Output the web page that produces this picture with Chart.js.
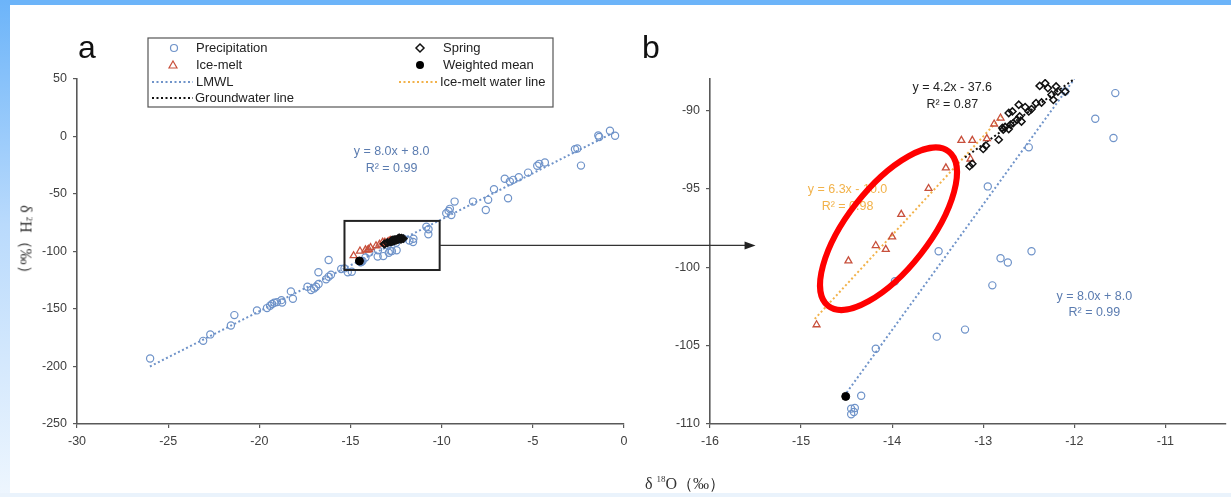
<!DOCTYPE html>
<html>
<head>
<meta charset="utf-8">
<script src="https://cdn.jsdelivr.net/npm/chart.js@4.4.0/dist/chart.umd.min.js"></script>
<style>
  html, body { margin: 0; padding: 0; }
  body { width: 1231px; height: 497px; overflow: hidden; position: relative; background: #fff; font-family: 'Liberation Sans', Arial, sans-serif; }
  #topband { position: absolute; left: 0; top: 0; width: 1231px; height: 5px; background: #6cb4f9; }
  #leftband { position: absolute; left: 0; top: 0; width: 10px; height: 497px; background: linear-gradient(to bottom, #6cb4f9, #b9dafc 45%, #eef6fe); }
  #bottomband { position: absolute; left: 0; top: 493px; width: 1231px; height: 4px; background: #eaf3fc; }
  .layer { position: absolute; left: 0; top: 0; }
  .panel { position: absolute; font-size: 32px; color: #111; line-height: 1; transform: translate(-50%, -50%); }
  .axis-title { position: absolute; font-family: 'Liberation Serif', 'DejaVu Serif', serif; font-size: 16px; color: #333; white-space: nowrap; }
  .axis-title sup { font-size: 9px; }
</style>
</head>
<body>
<div id="topband"></div>
<div id="leftband"></div>
<div id="bottomband"></div>
<canvas id="chartA" class="layer" width="1231" height="497"></canvas>
<canvas id="chartB" class="layer" width="1231" height="497"></canvas>
<div class="panel" style="left:87px; top:47px;">a</div>
<div class="panel" style="left:651px; top:47px;">b</div>
<div class="axis-title" style="left:25px; top:243px; transform: translate(-50%, -50%) rotate(90deg);">δ <sup>2</sup>H（‰）</div>
<div class="axis-title" style="left:685px; top:484px; transform: translate(-50%, -50%);">δ <sup>18</sup>O（‰）</div>

<script>
// Precipitation (δ18O, δ2H)
const precipX = [-25.99, -23.08, -22.69, -21.56, -21.37, -20.13, -19.58, -19.41, -19.3, -19.18, -19.03, -18.79, -18.75,
  -18.27, -18.16, -17.36, -17.16, -17.0, -16.89, -16.76, -16.75, -16.34, -16.2, -16.07, -16.2, -15.51, -15.33, -15.15, -14.93,
  -10.84, -10.72, -10.73, -9.75, -9.62, -9.55, -9.47, -9.29, -8.28, -7.58, -7.45, -7.13, -6.54, -6.36, -6.26, -6.08, -5.77,
  -5.26, -4.76, -4.65, -4.34, -2.69, -2.56, -2.36, -1.41, -1.36, -0.77, -0.49,
  -12.95, -13.49, -12.81, -12.73, -12.47, -12.9, -13.97, -13.51, -13.2, -14.18, -14.34, -14.45, -14.42, -14.41, -14.45,
  -12.5, -11.55, -11.77, -11.57, -12.1];
const precipY = [-193.0, -177.7, -172.1, -164.3, -155.3, -151.2, -149.2, -147.2, -145.7, -144.6, -144.0, -142.3, -144.3,
  -134.7, -141.1, -130.7, -133.5, -132.1, -130.7, -118.1, -128.3, -124.2, -121.9, -120.2, -107.4, -115.2, -114.7, -118.1, -117.6,
  -78.4, -80.7, -85.0, -66.7, -64.7, -62.9, -68.2, -56.6, -56.6, -63.9, -55.1, -45.8, -36.8, -53.7, -39.2, -37.7, -35.4,
  -31.4, -25.5, -23.8, -22.6, -11.0, -10.4, -25.3, 0.9, -0.5, 5.0, 0.6,
  -94.85, -98.98, -99.43, -99.7, -98.98, -101.16, -100.9, -104.43, -103.98, -105.2, -108.2, -109.38, -109.23, -108.98, -109.02,
  -92.36, -88.9, -90.53, -91.76, -88.8];

// Ice-melt
const iceX = [-14.83, -14.48, -14.18, -14.07, -14.0, -13.9, -13.6, -13.41, -13.14, -13.24, -13.12, -12.96, -12.88, -12.81];
const iceY = [-103.67, -99.6, -98.62, -98.86, -98.07, -96.63, -94.98, -93.67, -93.1, -91.91, -91.91, -91.8, -90.87, -90.49];

// Spring
const springX = [-13.15, -13.12, -13.0, -12.97, -12.83, -12.79, -12.78, -12.76, -12.72, -12.7, -12.67, -12.63, -12.6, -12.58,
  -12.72, -12.68, -12.61, -12.54, -12.5, -12.47, -12.42, -12.36, -12.38, -12.32, -12.29, -12.25, -12.2, -12.18, -12.1, -12.23];
const springY = [-93.56, -93.41, -92.46, -92.25, -91.87, -91.12, -91.23, -91.06, -91.19, -90.91, -90.81, -90.6, -90.39, -90.71,
  -90.17, -90.07, -89.64, -89.79, -90.07, -89.92, -89.54, -89.5, -88.44, -88.27, -88.58, -89.0, -88.48, -88.8, -88.8, -89.33];

// Weighted mean
const meanX = [-14.51];
const meanY = [-108.24];

// Fitted lines (end points)
const lmwlAX = [-26, -0.5];
const lmwlAY = [-200, 4];
const lmwlBX = [-14.5, -12.0];
const lmwlBY = [-108, -88];
const iceLineX = [-14.85, -12.8];
const iceLineY = [-103.3, -90.4];
const gwLineX = [-13.2, -12.0];
const gwLineY = [-93.0, -88.0];

// Axis ticks
const ticksAX = [-30, -25, -20, -15, -10, -5, 0];
const ticksAY = [-250, -200, -150, -100, -50, 0, 50];
const ticksBX = [-16, -15, -14, -13, -12, -11];
const ticksBY = [-110, -105, -100, -95, -90];

const BLUE = '#6f93c9';
const RED = '#c8503c';
const ORANGE = '#f2b24a';
const AXIS = '#595959';
const TICKFONT = { family: "'Liberation Sans', Arial, sans-serif", size: 12.5 };

function pts(xs, ys) {
  return xs.map((v, i) => ({ x: v, y: ys[i] }));
}

function lineSet(xs, ys, color, order) {
  return {
    type: 'line', data: pts(xs, ys), borderColor: color, borderWidth: 2, borderDash: [2, 2.5],
    pointRadius: 0, fill: false, order: order
  };
}

function markerSets() {
  return [
    { data: pts(precipX, precipY), pointStyle: 'circle', pointRadius: 3.6, borderWidth: 1.2,
      borderColor: BLUE, backgroundColor: 'rgba(0,0,0,0)', order: 6 },
    { data: pts(iceX, iceY), pointStyle: 'triangle', pointRadius: 4, borderWidth: 1.3,
      borderColor: RED, backgroundColor: 'rgba(0,0,0,0)', order: 3 },
    { data: pts(springX, springY), pointStyle: 'rectRot', pointRadius: 3.6, borderWidth: 1.5,
      borderColor: '#111', backgroundColor: 'rgba(0,0,0,0)', order: 2 },
    { data: pts(meanX, meanY), pointStyle: 'circle', pointRadius: 4, borderWidth: 1,
      borderColor: '#000', backgroundColor: '#000', order: 1 }
  ];
}

function axis(min, max, step, keep, fitW, fitH) {
  return {
    type: 'linear', min: min, max: max,
    afterBuildTicks: s => { s.ticks = keep.map(v => ({ value: v })); },
    afterFit: s => { if (fitW) s.width = fitW; if (fitH) s.height = fitH; },
    grid: { display: true, drawOnChartArea: false, drawTicks: true, tickLength: 4, color: AXIS, lineWidth: 1.2 },
    border: { display: true, color: AXIS, width: 1.6 },
    ticks: { stepSize: step, font: TICKFONT, color: '#404040', padding: 6 }
  };
}

function drawTexts(chart, items) {
  const { ctx, scales: { x, y } } = chart;
  ctx.save();
  ctx.font = "12.5px 'Liberation Sans', Arial, sans-serif";
  ctx.textAlign = 'center';
  ctx.textBaseline = 'middle';
  items.forEach(t => {
    ctx.fillStyle = t.color;
    ctx.fillText(t.text, x.getPixelForValue(t.x), y.getPixelForValue(t.y));
  });
  ctx.restore();
}

// Panel a extras: equation, legend, zoom box
const boxA = { x1: -15.33, x2: -10.11, y1: -73.4, y2: -116.1 };
const textsA = [
  { text: 'y = 8.0x + 8.0', x: -12.75, y: -13.3, color: '#5b7cb0' },
  { text: 'R² = 0.99', x: -12.75, y: -28.1, color: '#5b7cb0' }
];

const panelAPlugin = {
  id: 'panelA',
  afterDraw(chart) {
    const { ctx, scales: { x, y } } = chart;
    drawTexts(chart, textsA);
    // zoom box
    ctx.save();
    ctx.strokeStyle = '#222';
    ctx.lineWidth = 2;
    const bx1 = x.getPixelForValue(boxA.x1), bx2 = x.getPixelForValue(boxA.x2);
    const by1 = y.getPixelForValue(boxA.y1), by2 = y.getPixelForValue(boxA.y2);
    ctx.strokeRect(bx1, by1, bx2 - bx1, by2 - by1);
    ctx.restore();

    // legend
    ctx.save();
    ctx.strokeStyle = '#555';
    ctx.lineWidth = 1.2;
    ctx.strokeRect(148, 38, 405, 69);
    ctx.font = "13px 'Liberation Sans', Arial, sans-serif";
    ctx.textBaseline = 'middle';
    ctx.fillStyle = '#222';
    const rows = [48, 65, 82, 98];
    ctx.fillText('Precipitation', 196, rows[0]);
    ctx.fillText('Ice-melt', 196, rows[1]);
    ctx.fillText('LMWL', 196, rows[2]);
    ctx.fillText('Groundwater line', 195, rows[3]);
    ctx.fillText('Spring', 443, rows[0]);
    ctx.fillText('Weighted mean', 443, rows[1]);
    ctx.fillText('Ice-melt water line', 440, rows[2]);
    // markers
    ctx.lineWidth = 1.2;
    ctx.strokeStyle = BLUE;
    ctx.beginPath(); ctx.arc(174, rows[0], 3.5, 0, Math.PI * 2); ctx.stroke();
    ctx.strokeStyle = RED;
    ctx.beginPath(); ctx.moveTo(173, rows[1] - 4); ctx.lineTo(177, rows[1] + 3); ctx.lineTo(169, rows[1] + 3); ctx.closePath(); ctx.stroke();
    ctx.strokeStyle = '#111';
    ctx.lineWidth = 1.5;
    ctx.beginPath(); ctx.moveTo(420, rows[0] - 4); ctx.lineTo(424, rows[0]); ctx.lineTo(420, rows[0] + 4); ctx.lineTo(416, rows[0]); ctx.closePath(); ctx.stroke();
    ctx.fillStyle = '#000';
    ctx.beginPath(); ctx.arc(420, rows[1], 4, 0, Math.PI * 2); ctx.fill();
    // dotted lines
    ctx.lineWidth = 2;
    ctx.setLineDash([2, 2.5]);
    const seg = (x1, x2, yy, c) => { ctx.strokeStyle = c; ctx.beginPath(); ctx.moveTo(x1, yy); ctx.lineTo(x2, yy); ctx.stroke(); };
    seg(152, 193, rows[2], BLUE);
    seg(152, 193, rows[3], '#111');
    seg(399, 438, rows[2], ORANGE);
    ctx.restore();
  }
};

const chartA = new Chart(document.getElementById('chartA'), {
  type: 'scatter',
  data: {
    datasets: [lineSet(lmwlAX, lmwlAY, BLUE, 7)].concat(markerSets())
  },
  options: {
    responsive: false, animation: false, devicePixelRatio: 1,
    layout: { padding: { left: 27, right: 607, top: 79, bottom: 33 } },
    plugins: { legend: { display: false }, tooltip: { enabled: false } },
    scales: {
      x: axis(-30, 0, 5, ticksAX, null, 40),
      y: axis(-250, 50, 50, ticksAY, 50, null)
    }
  },
  plugins: [panelAPlugin]
});

// Panel b extras: equations, highlight ellipse, arrow
const textsB = [
  { text: 'y = 4.2x - 37.6', x: -13.34, y: -88.52, color: '#222' },
  { text: 'R² = 0.87', x: -13.34, y: -89.6, color: '#222' },
  { text: 'y = 6.3x - 10.0', x: -14.49, y: -95.04, color: ORANGE },
  { text: 'R² = 0.98', x: -14.49, y: -96.14, color: ORANGE },
  { text: 'y = 8.0x + 8.0', x: -11.78, y: -101.86, color: '#5b7cb0' },
  { text: 'R² = 0.99', x: -11.78, y: -102.92, color: '#5b7cb0' }
];
const ellipseB = { x: -14.04, y: -97.55, rx: 98, ry: 41, angle: -52 };
const arrowEndX = -15.5;

const panelBPlugin = {
  id: 'panelB',
  afterDraw(chart) {
    const { ctx, scales: { x, y } } = chart;
    drawTexts(chart, textsB);
    ctx.save();
    ctx.strokeStyle = '#ff0000';
    ctx.lineWidth = 6;
    ctx.beginPath();
    ctx.ellipse(x.getPixelForValue(ellipseB.x), y.getPixelForValue(ellipseB.y), ellipseB.rx, ellipseB.ry,
      ellipseB.angle * Math.PI / 180, 0, Math.PI * 2);
    ctx.stroke();

    // arrow from the zoom box in panel a
    const ax = chartA.scales.x.getPixelForValue(boxA.x2);
    const ay = chartA.scales.y.getPixelForValue((boxA.y1 + boxA.y2) / 2);
    const ex = x.getPixelForValue(arrowEndX);
    ctx.strokeStyle = '#333';
    ctx.fillStyle = '#222';
    ctx.lineWidth = 1.2;
    ctx.beginPath(); ctx.moveTo(ax, ay); ctx.lineTo(ex - 8, ay); ctx.stroke();
    ctx.beginPath(); ctx.moveTo(ex, ay); ctx.lineTo(ex - 11, ay - 4); ctx.lineTo(ex - 11, ay + 4); ctx.closePath(); ctx.fill();
    ctx.restore();
  }
};

new Chart(document.getElementById('chartB'), {
  type: 'scatter',
  data: {
    datasets: [
      lineSet(lmwlBX, lmwlBY, BLUE, 7),
      lineSet(iceLineX, iceLineY, ORANGE, 5),
      lineSet(gwLineX, gwLineY, '#111', 4)
    ].concat(markerSets())
  },
  options: {
    responsive: false, animation: false, devicePixelRatio: 1,
    layout: { padding: { left: 660, right: 0, top: 79, bottom: 33 } },
    plugins: { legend: { display: false }, tooltip: { enabled: false } },
    scales: {
      x: axis(-16, -10.34, 1, ticksBX, null, 40),
      y: axis(-110, -88, 5, ticksBY, 50, null)
    }
  },
  plugins: [panelBPlugin]
});
</script>
</body>
</html>
